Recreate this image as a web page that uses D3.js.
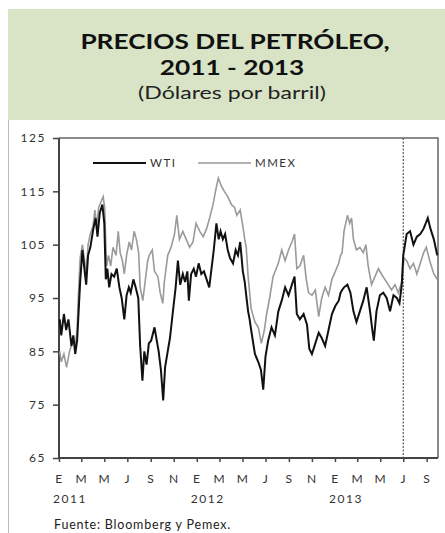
<!DOCTYPE html>
<html>
<head>
<meta charset="utf-8">
<script src="https://cdn.jsdelivr.net/npm/d3@7"></script>
<style>
  body { margin: 0; background: #fff; }
  svg { display: block; font-family: Lato, "Open Sans", sans-serif; }
</style>
</head>
<body>
<script>
const width = 445;
const height = 533;

// WTI (daily readings thinned out from the picture)
const wtiDates = ["2011-01-03","2011-01-07","2011-01-14","2011-01-20","2011-01-26","2011-02-03","2011-02-08","2011-02-13","2011-02-18","2011-02-26",
  "2011-03-04","2011-03-10","2011-03-14","2011-03-19","2011-03-25","2011-04-02","2011-04-08","2011-04-13","2011-04-19","2011-04-26",
  "2011-05-01","2011-05-05","2011-05-09","2011-05-14","2011-05-20","2011-05-27","2011-06-03","2011-06-10","2011-06-16","2011-06-23",
  "2011-06-29","2011-07-05","2011-07-10","2011-07-17","2011-07-23","2011-07-30","2011-08-04","2011-08-10","2011-08-15","2011-08-21",
  "2011-08-27","2011-09-02","2011-09-11","2011-09-17","2011-09-22","2011-09-28","2011-10-04","2011-10-09","2011-10-16","2011-10-22",
  "2011-10-29","2011-11-06","2011-11-12","2011-11-18","2011-11-25","2011-12-01","2011-12-07","2011-12-11","2011-12-17","2011-12-24",
  "2011-12-30","2012-01-06","2012-01-13","2012-01-20","2012-01-27","2012-02-03","2012-02-09","2012-02-15","2012-02-22","2012-02-28",
  "2012-03-04","2012-03-10","2012-03-16","2012-03-23","2012-03-29","2012-04-06","2012-04-13","2012-04-19","2012-04-25","2012-05-02",
  "2012-05-07","2012-05-11","2012-05-16","2012-05-20","2012-05-24","2012-06-03","2012-06-12","2012-06-19","2012-06-25","2012-07-01",
  "2012-07-08","2012-07-17","2012-07-26","2012-08-04","2012-08-13","2012-08-22","2012-08-31","2012-09-09","2012-09-16","2012-09-22",
  "2012-09-30","2012-10-10","2012-10-19","2012-10-25","2012-11-01","2012-11-10","2012-11-19","2012-11-27","2012-12-06","2012-12-15",
  "2012-12-24","2013-01-02","2013-01-11","2013-01-16","2013-01-20","2013-01-25","2013-02-03","2013-02-11","2013-02-19","2013-02-27",
  "2013-03-08","2013-03-17","2013-03-26","2013-04-04","2013-04-10","2013-04-14","2013-04-21","2013-04-30","2013-05-09","2013-05-18",
  "2013-05-27","2013-06-05","2013-06-14","2013-06-21","2013-06-27","2013-07-01","2013-07-10","2013-07-19","2013-07-28","2013-08-06",
  "2013-08-15","2013-08-24","2013-09-04","2013-09-11","2013-09-20","2013-09-29"];
const wtiValues = [91,88,92,89,91,86,88,84.5,87,98,
  104,100,97.5,103,104.5,108,110,106.5,111,112.5,
  109,98.5,100.5,97,99.5,99,100.5,97,95,91,
  95.5,97,96,98.5,97,95,86,79.5,85,82.5,
  86.5,87,89.5,87,85,81.5,75.8,82,85,87.5,
  92,97,102,97.5,99.5,98,100,94.5,99.5,100.5,
  99,101.5,99.5,100,98.5,97,100.5,104,109,106,
  107.5,106,107,104,102.5,101.5,104,103,105.5,100,
  98,95.5,92.5,91,89,84.5,83,81.5,77.8,84,
  87,89.5,88,92.5,94.5,97,95.5,97.5,99,92,
  91,92,90,85.5,84.5,86.5,88.5,87.5,86,89,
  92,93.5,94.5,96,96.5,97,97.5,96,92.5,90.5,
  92.5,94.5,97,92.5,89,87,92.5,95.5,96,95,
  92.5,95.5,95,94,97.5,103,107,107.5,105,106.5,
  107,108,110,108,106,103];

// MMEX
const mmexDates = ["2011-01-03","2011-01-07","2011-01-14","2011-01-21","2011-01-29","2011-02-07","2011-02-13","2011-02-18","2011-02-21","2011-02-26",
  "2011-03-04","2011-03-10","2011-03-14","2011-03-19","2011-03-25","2011-04-01","2011-04-06","2011-04-11","2011-04-16","2011-04-22",
  "2011-04-28","2011-05-02","2011-05-07","2011-05-12","2011-05-18","2011-05-24","2011-06-01","2011-06-07","2011-06-12","2011-06-18",
  "2011-06-23","2011-06-29","2011-07-06","2011-07-12","2011-07-19","2011-07-25","2011-07-31","2011-08-04","2011-08-11","2011-08-17",
  "2011-08-24","2011-08-28","2011-09-05","2011-09-11","2011-09-20","2011-09-26","2011-10-03","2011-10-07","2011-10-16","2011-10-25",
  "2011-11-03","2011-11-09","2011-11-16","2011-11-25","2011-12-04","2011-12-13","2011-12-22","2011-12-30","2012-01-09","2012-01-18",
  "2012-01-27","2012-02-04","2012-02-13","2012-02-21","2012-02-27","2012-03-06","2012-03-14","2012-03-23","2012-04-02","2012-04-10",
  "2012-04-16","2012-04-25","2012-05-02","2012-05-07","2012-05-11","2012-05-16","2012-05-24","2012-06-03","2012-06-12","2012-06-20",
  "2012-06-28","2012-07-04","2012-07-12","2012-07-21","2012-08-04","2012-08-13","2012-08-22","2012-08-31","2012-09-09","2012-09-16",
  "2012-09-22","2012-09-30","2012-10-10","2012-10-17","2012-10-23","2012-11-01","2012-11-10","2012-11-19","2012-11-27","2012-12-06",
  "2012-12-15","2012-12-24","2013-01-02","2013-01-11","2013-01-16","2013-01-20","2013-01-25","2013-02-03","2013-02-09","2013-02-14",
  "2013-02-19","2013-02-27","2013-03-08","2013-03-17","2013-03-24","2013-03-30","2013-04-08","2013-04-17","2013-04-26","2013-05-04",
  "2013-05-13","2013-05-22","2013-05-31","2013-06-09","2013-06-18","2013-06-27","2013-07-03","2013-07-10","2013-07-19","2013-07-28",
  "2013-08-06","2013-08-15","2013-08-24","2013-08-31","2013-09-09","2013-09-20","2013-09-29"];
const mmexValues = [85,83,84.5,82,85,87,86,89,95,102.5,
  105,102,99,105,107,108.5,111.5,108.5,112,113,
  114,112,101,103,101,104.5,103,107.5,103.5,102,
  99.5,103,105.5,104,107.5,106,103.5,97,94.5,98,
  102,103,104,100,99,96,94,98,103,104.5,
  107,110.5,106,107.5,106,104.5,105.5,109,107.5,106.5,
  108,110,112.5,115.5,117.5,116,115,114,112.5,112,
  110.5,111.5,108.5,106,104.5,99,93,90.5,89.5,86.5,
  89,92,95,99,101.5,104,102,104,105.5,107,
  100.5,101,103,98.5,96,95.5,96.5,91.5,95,97,
  95.5,98.5,100,101.5,103,103.5,107.5,110.5,109,110,
  106,104,104.5,103.5,105,101,97.5,99,100.5,99.5,
  98.5,97.5,96.5,97.5,96,98,102.5,102,100.5,101.5,
  99.5,101.5,103.5,104.5,102,99.5,98.5];

const yTicks = [65, 75, 85, 95, 105, 115, 125];
const monthLabels = ["E", "M", "M", "J", "S", "N"];
const years = ["2011", "2012", "2013"];
const markerDate = "2013-07-01";
const legendItems = [{name: "WTI", color: "#111"}, {name: "MMEX", color: "#9a9a9a"}];

const parse = d3.timeParse("%Y-%m-%d");
const toSeries = (dates, values) => dates.map((d, i) => ({date: parse(d), value: values[i]}));
const wti = toSeries(wtiDates, wtiValues);
const mmex = toSeries(mmexDates, mmexValues);

const plot = {left: 59, right: 438, top: 138, bottom: 458};

const x = d3.scaleTime()
  .domain([new Date(2011, 0, 1), new Date(2013, 9, 1)])
  .range([plot.left, plot.right]);
const y = d3.scaleLinear()
  .domain([65, 125])
  .range([plot.bottom, plot.top]);

const svg = d3.select("body").append("svg")
  .attr("width", width)
  .attr("height", height);

// header
svg.append("rect")
  .attr("x", 8).attr("y", 9)
  .attr("width", width - 8).attr("height", 111)
  .attr("fill", "#d9e4c6");
svg.append("line")
  .attr("x1", 8.5).attr("x2", 8.5).attr("y1", 120).attr("y2", height)
  .attr("stroke", "#bbb").attr("stroke-width", 1);

// the title in the picture is drawn wide, so stretch it horizontally
const titleLine = (text, cx, baseline, size, sx) =>
  svg.append("text")
    .attr("transform", `translate(${cx},${baseline}) scale(${sx},1)`)
    .attr("text-anchor", "middle")
    .attr("font-size", size)
    .text(text);

titleLine("PRECIOS DEL PETRÓLEO,", 235, 49, 21, 1.25)
  .attr("font-weight", "bold").attr("fill", "#111");
titleLine("2011 - 2013", 232, 75, 21, 1.25)
  .attr("font-weight", "bold").attr("fill", "#111");
titleLine("(Dólares por barril)", 232, 99, 17.5, 1.32)
  .attr("fill", "#222");

// y axis
const yAxis = svg.append("g")
  .attr("transform", `translate(${plot.left},0)`)
  .call(d3.axisLeft(y).tickValues(yTicks).tickSize(6).tickPadding(7));
yAxis.select(".domain").remove();

// x axis: one tick every two months
const xTickDates = d3.timeMonth.every(2).range(new Date(2011, 0, 1), new Date(2013, 9, 2));
const xAxis = svg.append("g")
  .attr("transform", `translate(0,${plot.bottom})`)
  .call(d3.axisBottom(x).tickValues(xTickDates).tickSize(4).tickPadding(12)
    .tickFormat((d) => monthLabels[d.getMonth() / 2]));
xAxis.select(".domain").remove();

svg.selectAll(".tick line").attr("stroke", "#444").attr("stroke-width", 1.5);
svg.selectAll(".tick text")
  .attr("font-family", "Lato, sans-serif")
  .attr("font-size", 12)
  .attr("letter-spacing", 1.5)
  .attr("fill", "#333");

svg.append("g").selectAll("text").data(years).join("text")
  .attr("x", (d) => x(new Date(+d, 0, 1)) + 11)
  .attr("y", 503)
  .attr("text-anchor", "middle")
  .attr("font-size", 12).attr("letter-spacing", 1.5).attr("fill", "#333")
  .text((d) => d);

// frame
svg.append("path")
  .attr("d", `M${plot.left},${plot.top}H${plot.right}V${plot.bottom}`)
  .attr("fill", "none").attr("stroke", "#666").attr("stroke-width", 1.5);
svg.append("path")
  .attr("d", `M${plot.left},${plot.top}V${plot.bottom}H${plot.right}`)
  .attr("fill", "none").attr("stroke", "#444").attr("stroke-width", 2);

// dashed marker
svg.append("line")
  .attr("x1", x(parse(markerDate))).attr("x2", x(parse(markerDate)))
  .attr("y1", plot.top).attr("y2", plot.bottom)
  .attr("stroke", "#555").attr("stroke-width", 1.2).attr("stroke-dasharray", "2,1.5");

const line = d3.line().x((d) => x(d.date)).y((d) => y(d.value));

svg.append("path").datum(mmex)
  .attr("d", line).attr("fill", "none")
  .attr("stroke", legendItems[1].color).attr("stroke-width", 1.6);
svg.append("path").datum(wti)
  .attr("d", line).attr("fill", "none")
  .attr("stroke", legendItems[0].color).attr("stroke-width", 2);

// legend
const legend = svg.append("g");
const legendX = [93, 198];
legendItems.forEach((item, i) => {
  legend.append("line")
    .attr("x1", legendX[i]).attr("x2", legendX[i] + 53)
    .attr("y1", 163).attr("y2", 163)
    .attr("stroke", item.color).attr("stroke-width", i ? 1.6 : 2);
  legend.append("text")
    .attr("x", legendX[i] + 57).attr("y", 167)
    .attr("font-size", 11.5).attr("letter-spacing", 1.5).attr("fill", "#333")
    .text(item.name);
});

svg.append("text")
  .attr("x", 54).attr("y", 529)
  .attr("font-size", 12.5).attr("letter-spacing", 0.8).attr("fill", "#222")
  .text("Fuente: Bloomberg y Pemex.");
</script>
</body>
</html>
